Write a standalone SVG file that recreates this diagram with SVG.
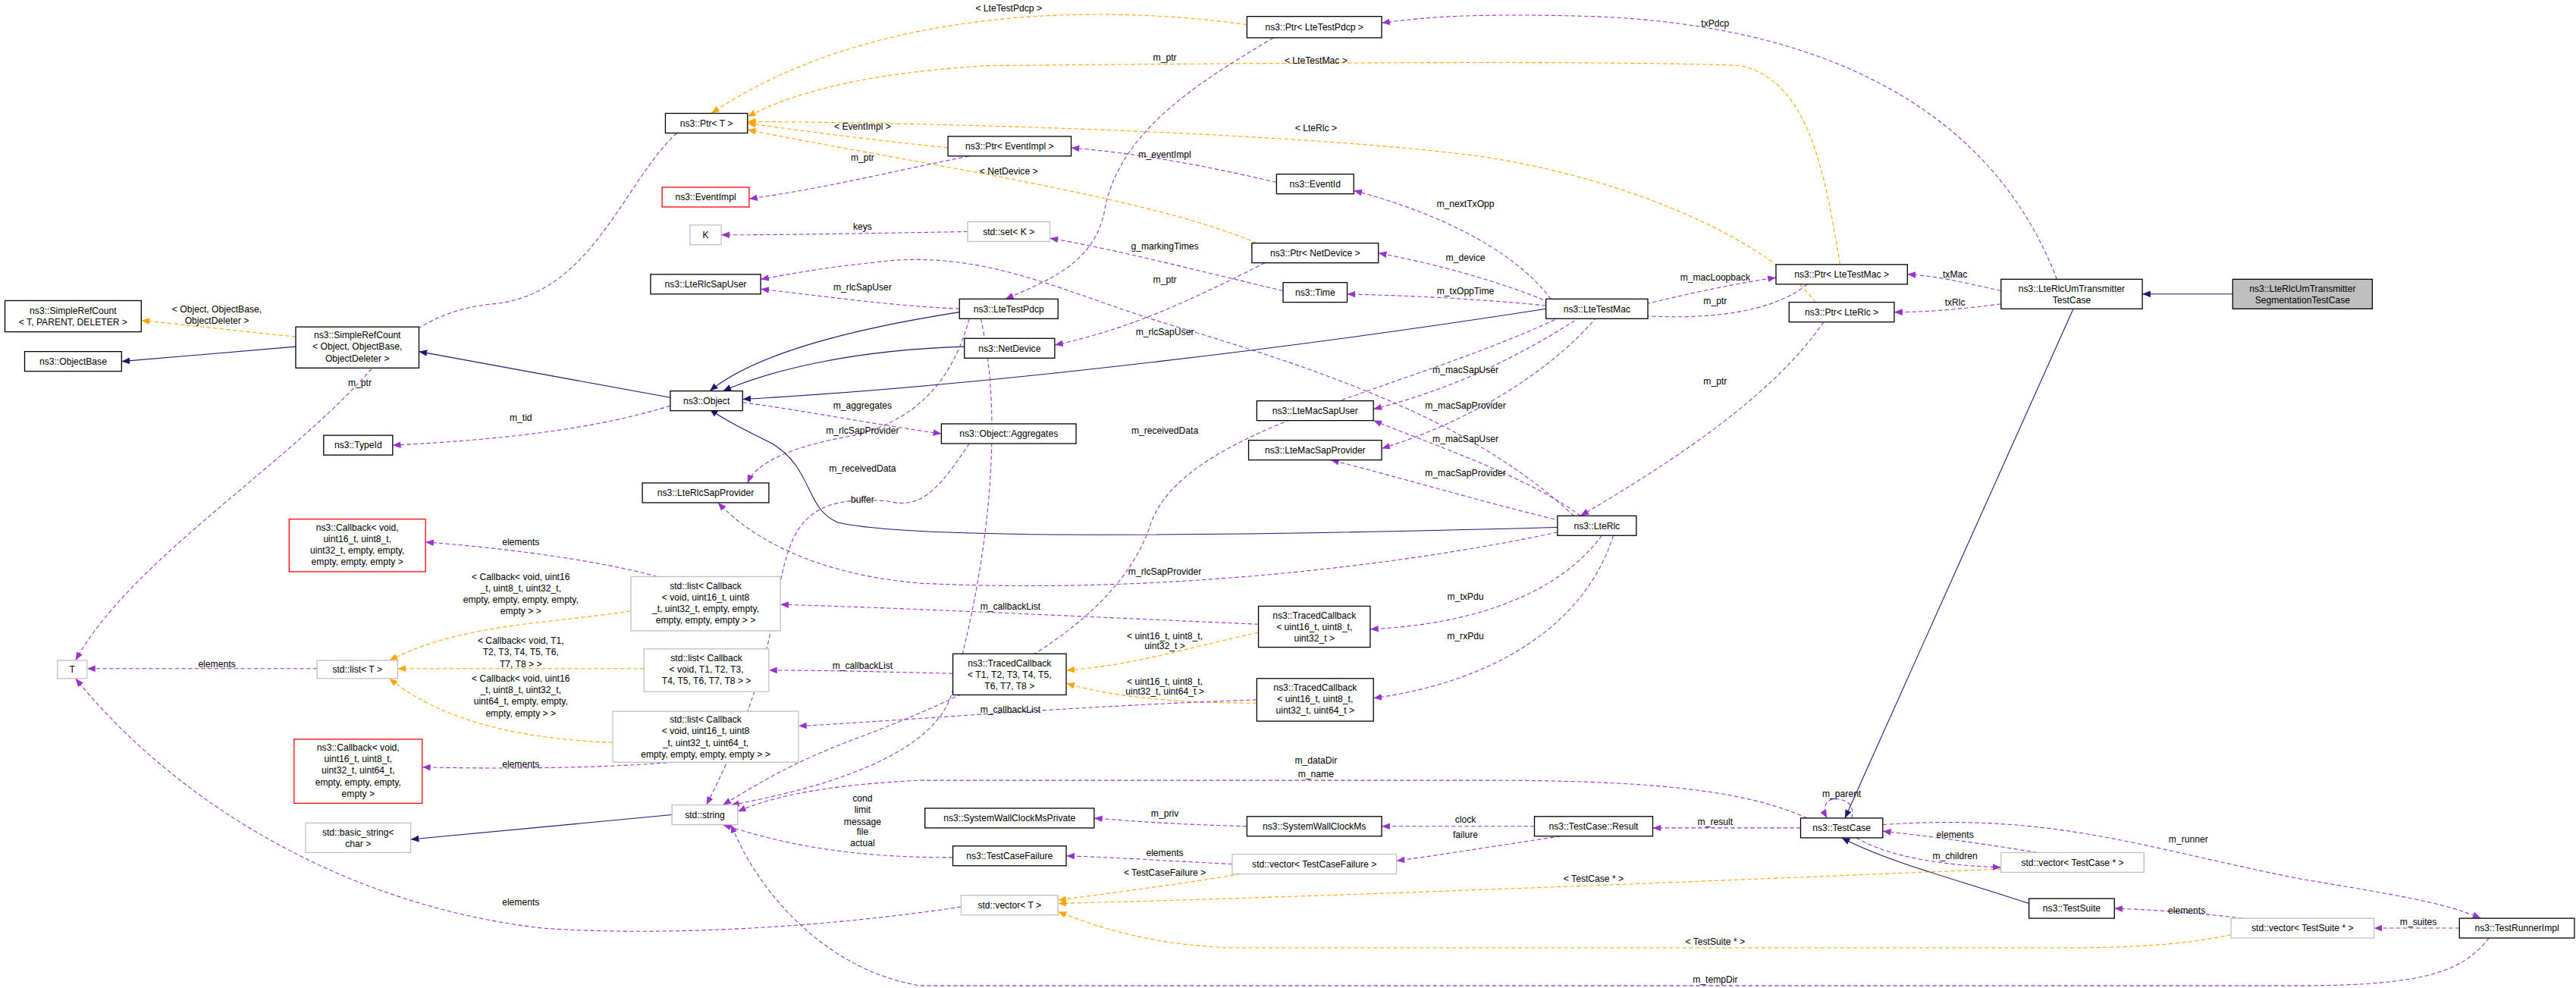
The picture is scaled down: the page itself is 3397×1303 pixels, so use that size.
<svg xmlns="http://www.w3.org/2000/svg" width="3397" height="1303" viewBox="0 0 3397 1303">
<defs>
<style>
text{font-family:"Liberation Sans",Arial,sans-serif;font-size:5.6px;fill:#000;text-anchor:middle}
.n rect{fill:#fff;stroke:#000;stroke-width:0.6}
.g rect{fill:#fff;stroke:#bfbfbf;stroke-width:0.6}
.r rect{fill:#fff;stroke:#ff0000;stroke-width:0.6}
.h rect{fill:#bfbfbf;stroke:#000;stroke-width:0.6}
#edges path{fill:none;stroke-width:0.5}
.p{stroke:#9a32cd;stroke-dasharray:2.5,1.5;marker-end:url(#mp)}
.o{stroke:#ffa500;stroke-dasharray:2.5,1.5;marker-end:url(#mo)}
.b{stroke:#191970;marker-end:url(#mb)}
</style>
<marker id="mp" markerUnits="userSpaceOnUse" markerWidth="5" markerHeight="4" refX="5" refY="2" orient="auto"><path d="M0,0L5,2L0,4z" fill="#9a32cd"/></marker>
<marker id="mo" markerUnits="userSpaceOnUse" markerWidth="5" markerHeight="4" refX="5" refY="2" orient="auto"><path d="M0,0L5,2L0,4z" fill="#ffa500"/></marker>
<marker id="mb" markerUnits="userSpaceOnUse" markerWidth="5" markerHeight="4" refX="5" refY="2" orient="auto"><path d="M0,0L5,2L0,4z" fill="#191970"/></marker>
</defs>
<rect width="3397" height="1303" fill="#fff"/>
<g transform="scale(2.1665)">
<g id="edges">
<path class="o" d="M759,15 C650,0 520,10 433,69"/>
<path class="o" d="M1120,161 C1110,100 1100,50 1060,40 C1000,37 800,38 600,40 C520,45 480,58 455,71"/>
<path class="o" d="M577,90 C530,85 490,80 455,75"/>
<path class="o" d="M765,148 C700,120 560,100 455,79"/>
<path class="o" d="M1105,184 C1080,150 1000,110 900,95 C800,82 600,75 455,74"/>
<path class="o" d="M180,205 C150,202 115,198 86,195"/>
<path class="o" d="M384,372 C330,380 280,380 237,402"/>
<path class="o" d="M392,407 L242,407"/>
<path class="o" d="M373,452 C320,450 270,440 237,413"/>
<path class="o" d="M766,385 C720,395 690,405 649,408"/>
<path class="o" d="M765,428 C720,428 680,425 649,416"/>
<path class="o" d="M755,532 C720,538 680,543 644,548"/>
<path class="o" d="M1218,529 C1000,538 800,546 644,550"/>
<path class="o" d="M1358,569 C1330,575 1300,577 1250,577 L750,577 C700,575 670,565 644,555"/>
<path class="b" d="M1359,179 L1304,179"/>
<path class="b" d="M1262,188 L1123,498"/>
<path class="b" d="M1235,550 C1190,535 1150,525 1121,510"/>
<path class="b" d="M584,190 C520,200 460,215 432,238"/>
<path class="b" d="M587,211 C520,213 470,225 440,238"/>
<path class="b" d="M941,188 C800,210 600,235 452,243"/>
<path class="b" d="M948,321 C800,325 560,330 510,318 C490,310 495,285 470,270 C450,260 440,255 432,249"/>
<path class="b" d="M408,242 L255,214"/>
<path class="b" d="M180,211 L74,220"/>
<path class="b" d="M409,496 L250,511"/>
<path class="p" d="M412,81 C380,110 360,180 300,185 C270,188 250,200 230,220 C180,280 80,340 46,402"/>
<path class="p" d="M408,247 C360,262 300,268 239,271"/>
<path class="p" d="M775,23 C730,50 680,80 672,130 C665,160 640,170 612,182"/>
<path class="p" d="M590,95 C540,105 500,115 456,121"/>
<path class="p" d="M777,111 C730,100 690,93 652,90"/>
<path class="p" d="M589,141 C530,142 480,143 439,143"/>
<path class="p" d="M781,177 C730,165 680,152 639,145"/>
<path class="p" d="M770,160 C730,180 690,200 642,210"/>
<path class="p" d="M944,182 C920,150 870,128 824,116"/>
<path class="p" d="M943,184 C910,170 870,160 839,154"/>
<path class="p" d="M941,186 C900,182 860,180 820,179"/>
<path class="p" d="M998,186 C1030,178 1060,172 1081,169"/>
<path class="p" d="M1100,173 C1080,190 1040,195 998,192"/>
<path class="p" d="M1218,177 C1195,172 1180,168 1161,167"/>
<path class="p" d="M1218,185 C1195,188 1175,190 1153,190"/>
<path class="p" d="M1252,170 C1210,60 1100,15 970,10 C900,8 870,10 841,14"/>
<path class="p" d="M1110,196 C1080,240 1020,280 962,314"/>
<path class="p" d="M584,188 C540,186 500,180 463,176"/>
<path class="p" d="M958,314 C900,260 820,230 720,200 C650,180 600,150 530,160 C500,163 480,167 463,170"/>
<path class="p" d="M590,194 C580,230 560,255 520,265 C480,272 460,282 455,294"/>
<path class="p" d="M452,245 C490,250 530,258 573,264"/>
<path class="p" d="M948,324 C850,345 700,362 560,355 C500,350 460,330 437,306"/>
<path class="p" d="M962,193 C920,220 880,238 836,249"/>
<path class="p" d="M972,193 C940,230 890,258 841,273"/>
<path class="p" d="M962,314 C930,290 870,270 836,256"/>
<path class="p" d="M950,317 C900,305 850,290 810,280"/>
<path class="p" d="M975,326 C950,360 900,380 834,383"/>
<path class="p" d="M982,326 C965,380 910,415 836,425"/>
<path class="p" d="M766,380 C650,375 550,370 475,368"/>
<path class="p" d="M580,410 C540,409 500,408 468,408"/>
<path class="p" d="M765,426 C650,430 560,438 486,442"/>
<path class="p" d="M400,351 C360,340 300,333 259,330"/>
<path class="p" d="M410,464 C360,468 300,468 257,467"/>
<path class="p" d="M193,407 L53,407"/>
<path class="p" d="M585,552 C500,565 400,570 330,565 C200,550 100,480 46,413"/>
<path class="p" d="M950,193 C850,240 720,260 700,320 C680,380 600,420 520,450 C480,465 460,478 440,490"/>
<path class="p" d="M597,194 C612,260 600,350 580,420 C570,460 500,480 445,490"/>
<path class="p" d="M590,270 C570,300 560,310 540,305 C480,300 480,330 470,380 C460,430 440,470 430,490"/>
<path class="p" d="M1100,498 C1060,480 1000,475 900,475 L560,475 C500,478 470,485 449,494"/>
<path class="p" d="M580,522 C520,522 480,515 440,502"/>
<path class="p" d="M759,503 C720,502 690,500 666,498"/>
<path class="p" d="M934,503 L841,503"/>
<path class="p" d="M950,509 C910,515 880,520 850,524"/>
<path class="p" d="M750,526 C710,524 680,522 649,521"/>
<path class="p" d="M1096,504 L1006,504"/>
<path class="p" d="M1127,498 C1130,488 1120,485 1114,487 C1110,489 1110,494 1112,498"/>
<path class="p" d="M1240,519 C1210,514 1175,509 1146,506"/>
<path class="p" d="M1130,510 C1150,522 1185,527 1218,528"/>
<path class="p" d="M1146,502 C1250,495 1300,515 1400,535 C1460,545 1490,550 1510,559"/>
<path class="p" d="M1497,565 L1445,565"/>
<path class="p" d="M1365,559 C1340,556 1315,554 1287,553"/>
<path class="p" d="M1515,571 C1500,590 1480,600 1400,600 L560,600 C500,590 460,540 445,502"/>
</g>
<g id="labels">
<text x="614" y="7">&lt; LteTestPdcp &gt;</text>
<text x="801" y="39">&lt; LteTestMac &gt;</text>
<text x="525" y="79">&lt; EventImpl &gt;</text>
<text x="614" y="106">&lt; NetDevice &gt;</text>
<text x="801" y="80">&lt; LteRlc &gt;</text>
<text x="132" y="190">&lt; Object, ObjectBase,</text><text x="132" y="197">ObjectDeleter &gt;</text>
<text x="317" y="353">&lt; Callback&lt; void, uint16</text><text x="317" y="360">_t, uint8_t, uint32_t,</text><text x="317" y="367">empty, empty, empty, empty,</text><text x="317" y="374">empty &gt; &gt;</text>
<text x="317" y="392">&lt; Callback&lt; void, T1,</text><text x="317" y="399">T2, T3, T4, T5, T6,</text><text x="317" y="406">T7, T8 &gt; &gt;</text>
<text x="317" y="415">&lt; Callback&lt; void, uint16</text><text x="317" y="422">_t, uint8_t, uint32_t,</text><text x="317" y="429">uint64_t, empty, empty,</text><text x="317" y="436">empty, empty &gt; &gt;</text>
<text x="709" y="389">&lt; uint16_t, uint8_t,</text><text x="709" y="395">uint32_t &gt;</text>
<text x="709" y="417">&lt; uint16_t, uint8_t,</text><text x="709" y="423">uint32_t, uint64_t &gt;</text>
<text x="709" y="533">&lt; TestCaseFailure &gt;</text>
<text x="970" y="537">&lt; TestCase * &gt;</text>
<text x="1044" y="575">&lt; TestSuite * &gt;</text>
<text x="219" y="235">m_ptr</text>
<text x="317" y="256">m_tid</text>
<text x="709" y="37">m_ptr</text>
<text x="525" y="98">m_ptr</text>
<text x="709" y="96">m_eventImpl</text>
<text x="525" y="140">keys</text>
<text x="709" y="152">g_markingTimes</text>
<text x="709" y="172">m_ptr</text>
<text x="892" y="126">m_nextTxOpp</text>
<text x="892" y="159">m_device</text>
<text x="892" y="179">m_txOppTime</text>
<text x="1044" y="171">m_macLoopback</text>
<text x="1044" y="185">m_ptr</text>
<text x="1190" y="169">txMac</text>
<text x="1190" y="186">txRlc</text>
<text x="1044" y="16">txPdcp</text>
<text x="1044" y="234">m_ptr</text>
<text x="525" y="177">m_rlcSapUser</text>
<text x="709" y="204">m_rlcSapUser</text>
<text x="525" y="249">m_aggregates</text>
<text x="525" y="264">m_rlcSapProvider</text>
<text x="525" y="287">m_receivedData</text>
<text x="525" y="306">buffer</text>
<text x="709" y="264">m_receivedData</text>
<text x="709" y="350">m_rlcSapProvider</text>
<text x="892" y="227">m_macSapUser</text>
<text x="892" y="249">m_macSapProvider</text>
<text x="892" y="269">m_macSapUser</text>
<text x="892" y="290">m_macSapProvider</text>
<text x="892" y="365">m_txPdu</text>
<text x="892" y="389">m_rxPdu</text>
<text x="615" y="371">m_callbackList</text>
<text x="525" y="407">m_callbackList</text>
<text x="615" y="434">m_callbackList</text>
<text x="317" y="332">elements</text>
<text x="317" y="467">elements</text>
<text x="132" y="406">elements</text>
<text x="317" y="551">elements</text>
<text x="801" y="465">m_dataDir</text><text x="801" y="473">m_name</text>
<text x="525" y="488">cond</text><text x="525" y="495">limit</text><text x="525" y="502">message</text><text x="525" y="508">file</text><text x="525" y="515">actual</text>
<text x="709" y="497">m_priv</text>
<text x="892" y="501">clock</text>
<text x="892" y="510">failure</text>
<text x="709" y="521">elements</text>
<text x="1044" y="502">m_result</text>
<text x="1121" y="485">m_parent</text>
<text x="1190" y="510">elements</text>
<text x="1190" y="523">m_children</text>
<text x="1332" y="513">m_runner</text>
<text x="1472" y="563">m_suites</text>
<text x="1331" y="556">elements</text>
<text x="1044" y="598">m_tempDir</text>
</g>
<g id="n1" class="n"><rect x="405" y="69" width="50" height="12"/><text x="430" y="77">ns3::Ptr&lt; T &gt;</text></g>
<g id="n2" class="n"><rect x="759" y="10" width="82" height="13"/><text x="800" y="18.5">ns3::Ptr&lt; LteTestPdcp &gt;</text></g>
<g id="n3" class="n"><rect x="577" y="83" width="75" height="12"/><text x="614.5" y="91">ns3::Ptr&lt; EventImpl &gt;</text></g>
<g id="n4" class="r"><rect x="403" y="114" width="53" height="12"/><text x="429.5" y="122">ns3::EventImpl</text></g>
<g id="n5" class="g"><rect x="420" y="137" width="19" height="12"/><text x="429.5" y="145">K</text></g>
<g id="n6" class="g"><rect x="589" y="135" width="50" height="12"/><text x="614" y="143">std::set&lt; K &gt;</text></g>
<g id="n7" class="n"><rect x="396" y="167" width="67" height="12"/><text x="429.5" y="175">ns3::LteRlcSapUser</text></g>
<g id="n8" class="n"><rect x="3" y="183" width="83" height="19"/><text x="44.5" y="191">ns3::SimpleRefCount</text><text x="44.5" y="198">&lt; T, PARENT, DELETER &gt;</text></g>
<g id="n9" class="n"><rect x="180" y="199" width="75" height="25"/><text x="217.5" y="206">ns3::SimpleRefCount</text><text x="217.5" y="213">&lt; Object, ObjectBase,</text><text x="217.5" y="220">ObjectDeleter &gt;</text></g>
<g id="n10" class="n"><rect x="15" y="214" width="59" height="12"/><text x="44.5" y="222">ns3::ObjectBase</text></g>
<g id="n11" class="n"><rect x="408" y="238" width="44" height="12"/><text x="430" y="246">ns3::Object</text></g>
<g id="n12" class="n"><rect x="197" y="265" width="42" height="12"/><text x="218" y="273">ns3::TypeId</text></g>
<g id="n13" class="n"><rect x="584" y="182" width="60" height="12"/><text x="614" y="190">ns3::LteTestPdcp</text></g>
<g id="n14" class="n"><rect x="587" y="206" width="55" height="12"/><text x="614.5" y="214">ns3::NetDevice</text></g>
<g id="n15" class="n"><rect x="573" y="258" width="82" height="12"/><text x="614" y="266">ns3::Object::Aggregates</text></g>
<g id="n16" class="n"><rect x="391" y="294" width="77" height="12"/><text x="429.5" y="302">ns3::LteRlcSapProvider</text></g>
<g id="n17" class="r"><rect x="176" y="316" width="83" height="32"/><text x="217.5" y="323">ns3::Callback&lt; void,</text><text x="217.5" y="330">uint16_t, uint8_t,</text><text x="217.5" y="337">uint32_t, empty, empty,</text><text x="217.5" y="344">empty, empty, empty &gt;</text></g>
<g id="n18" class="g"><rect x="384" y="351" width="91" height="33"/><text x="429.5" y="358.5">std::list&lt; Callback</text><text x="429.5" y="365.5">&lt; void, uint16_t, uint8</text><text x="429.5" y="372.5">_t, uint32_t, empty, empty,</text><text x="429.5" y="379.5">empty, empty, empty &gt; &gt;</text></g>
<g id="n19" class="g"><rect x="35" y="402" width="18" height="11"/><text x="44" y="409.5">T</text></g>
<g id="n20" class="g"><rect x="193" y="402" width="49" height="11"/><text x="217.5" y="409.5">std::list&lt; T &gt;</text></g>
<g id="n21" class="g"><rect x="392" y="395" width="76" height="26"/><text x="430" y="402.5">std::list&lt; Callback</text><text x="430" y="409.5">&lt; void, T1, T2, T3,</text><text x="430" y="416.5">T4, T5, T6, T7, T8 &gt; &gt;</text></g>
<g id="n22" class="g"><rect x="373" y="433" width="113" height="31"/><text x="429.5" y="440">std::list&lt; Callback</text><text x="429.5" y="447">&lt; void, uint16_t, uint8</text><text x="429.5" y="454">_t, uint32_t, uint64_t,</text><text x="429.5" y="461">empty, empty, empty, empty &gt; &gt;</text></g>
<g id="n23" class="r"><rect x="179" y="450" width="78" height="39"/><text x="218" y="457">ns3::Callback&lt; void,</text><text x="218" y="464">uint16_t, uint8_t,</text><text x="218" y="471">uint32_t, uint64_t,</text><text x="218" y="478">empty, empty, empty,</text><text x="218" y="485">empty &gt;</text></g>
<g id="n24" class="g"><rect x="186" y="501" width="64" height="18"/><text x="218" y="508.5">std::basic_string&lt;</text><text x="218" y="515.5">char &gt;</text></g>
<g id="n25" class="g"><rect x="409" y="490" width="40" height="12"/><text x="429" y="498">std::string</text></g>
<g id="n26" class="n"><rect x="563" y="492" width="103" height="12"/><text x="614.5" y="500">ns3::SystemWallClockMsPrivate</text></g>
<g id="n27" class="n"><rect x="759" y="497" width="82" height="12"/><text x="800" y="505">ns3::SystemWallClockMs</text></g>
<g id="n28" class="n"><rect x="580" y="515" width="69" height="12"/><text x="614.5" y="523">ns3::TestCaseFailure</text></g>
<g id="n29" class="n"><rect x="934" y="497" width="72" height="12"/><text x="970" y="505">ns3::TestCase::Result</text></g>
<g id="n30" class="g"><rect x="750" y="520" width="100" height="12"/><text x="800" y="528">std::vector&lt; TestCaseFailure &gt;</text></g>
<g id="n31" class="g"><rect x="585" y="545" width="59" height="12"/><text x="614.5" y="553">std::vector&lt; T &gt;</text></g>
<g id="n32" class="n"><rect x="580" y="398" width="69" height="25"/><text x="614.5" y="405.5">ns3::TracedCallback</text><text x="614.5" y="412.5">&lt; T1, T2, T3, T4, T5,</text><text x="614.5" y="419.5">T6, T7, T8 &gt;</text></g>
<g id="n33" class="n"><rect x="766" y="369" width="68" height="25"/><text x="800" y="376.5">ns3::TracedCallback</text><text x="800" y="383.5">&lt; uint16_t, uint8_t,</text><text x="800" y="390.5">uint32_t &gt;</text></g>
<g id="n34" class="n"><rect x="765" y="413" width="71" height="26"/><text x="800.5" y="420.5">ns3::TracedCallback</text><text x="800.5" y="427.5">&lt; uint16_t, uint8_t,</text><text x="800.5" y="434.5">uint32_t, uint64_t &gt;</text></g>
<g id="n35" class="n"><rect x="777" y="106" width="47" height="12"/><text x="800.5" y="114">ns3::EventId</text></g>
<g id="n36" class="n"><rect x="762" y="148" width="77" height="12"/><text x="800.5" y="156">ns3::Ptr&lt; NetDevice &gt;</text></g>
<g id="n37" class="n"><rect x="781" y="172" width="39" height="12"/><text x="800.5" y="180">ns3::Time</text></g>
<g id="n38" class="n"><rect x="941" y="182" width="62" height="12"/><text x="972" y="190">ns3::LteTestMac</text></g>
<g id="n39" class="n"><rect x="765" y="244" width="71" height="12"/><text x="800.5" y="252">ns3::LteMacSapUser</text></g>
<g id="n40" class="n"><rect x="760" y="268" width="81" height="12"/><text x="800.5" y="276">ns3::LteMacSapProvider</text></g>
<g id="n41" class="n"><rect x="948" y="314" width="48" height="12"/><text x="972" y="322">ns3::LteRlc</text></g>
<g id="n42" class="n"><rect x="1081" y="161" width="80" height="12"/><text x="1121" y="169">ns3::Ptr&lt; LteTestMac &gt;</text></g>
<g id="n43" class="n"><rect x="1089" y="184" width="64" height="12"/><text x="1121" y="192">ns3::Ptr&lt; LteRlc &gt;</text></g>
<g id="n44" class="n"><rect x="1218" y="170" width="86" height="18"/><text x="1261" y="177.5">ns3::LteRlcUmTransmitter</text><text x="1261" y="184.5">TestCase</text></g>
<g id="n45" class="h"><rect x="1359" y="170" width="85" height="18"/><text x="1401.5" y="177.5">ns3::LteRlcUmTransmitter</text><text x="1401.5" y="184.5">SegmentationTestCase</text></g>
<g id="n46" class="n"><rect x="1096" y="498" width="50" height="12"/><text x="1121" y="506">ns3::TestCase</text></g>
<g id="n47" class="g"><rect x="1218" y="519" width="87" height="12"/><text x="1261.5" y="527">std::vector&lt; TestCase * &gt;</text></g>
<g id="n48" class="n"><rect x="1235" y="547" width="52" height="12"/><text x="1261" y="555">ns3::TestSuite</text></g>
<g id="n49" class="g"><rect x="1358" y="559" width="87" height="12"/><text x="1401.5" y="567">std::vector&lt; TestSuite * &gt;</text></g>
<g id="n50" class="n"><rect x="1497" y="559" width="70" height="12"/><text x="1532" y="567">ns3::TestRunnerImpl</text></g>
</g>
</svg>
